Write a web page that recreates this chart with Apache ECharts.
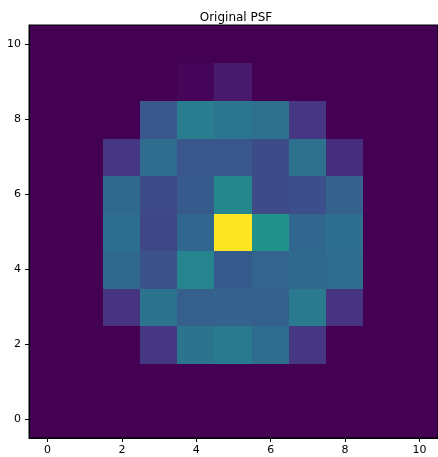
<!DOCTYPE html>
<html>
<head>
<meta charset="utf-8">
<script src="https://cdn.jsdelivr.net/npm/echarts@6/dist/echarts.min.js"></script>
<style>html,body{margin:0;padding:0;background:#fff;}#c{width:438px;height:457px;}</style>
</head>
<body>
<div id="c"></div>
<script>
var xCategories = ['0','1','2','3','4','5','6','7','8','9','10'];
var yCategories = ['0','1','2','3','4','5','6','7','8','9','10'];
var titleText = 'Original PSF';
// rows from y=0 (bottom) to y=10 (top), normalized intensity
var row0  = [0,0,0,0,0,0,0,0,0,0,0];
var row1  = [0,0,0,0,0,0,0,0,0,0,0];
var row2  = [0,0,0,0.16,0.38,0.41,0.35,0.16,0,0,0];
var row3  = [0,0,0.15,0.38,0.30,0.31,0.30,0.41,0.15,0,0];
var row4  = [0,0,0.34,0.25,0.45,0.28,0.32,0.34,0.35,0,0];
var row5  = [0,0,0.36,0.21,0.33,1.0,0.50,0.33,0.36,0,0];
var row6  = [0,0,0.34,0.22,0.28,0.46,0.22,0.24,0.31,0,0];
var row7  = [0,0,0.16,0.35,0.27,0.27,0.23,0.37,0.13,0,0];
var row8  = [0,0,0,0.27,0.42,0.39,0.37,0.16,0,0,0];
var row9  = [0,0,0,0,0.015,0.07,0,0,0,0,0];
var row10 = [0,0,0,0,0,0,0,0,0,0,0];
var rows = [row0,row1,row2,row3,row4,row5,row6,row7,row8,row9,row10];

var data = [];
rows.forEach(function(r, y){ r.forEach(function(v, x){ data.push([x, y, v]); }); });

var viridis = ['#440154','#471365','#482475','#463480','#414487','#3b528b','#355f8d','#2f6c8e','#2a788e','#25848e','#21918c','#1e9c89','#22a884','#2fb47c','#44bf70','#5ec962','#7ad151','#9bd93c','#bddf26','#dfe318','#fde725'];

var chart = echarts.init(document.getElementById('c'), null, {renderer:'canvas'});
var axisCommon = {
  type: 'category',
  axisLine: {show: true, onZero: false, lineStyle: {color: '#000', width: 1}},
  axisTick: {show: true, interval: 1, alignWithLabel: true, length: 4, lineStyle: {color: '#000'}},
  axisLabel: {interval: 1, color: '#000', fontFamily: 'DejaVu Sans', fontSize: 11, margin: 7},
  splitLine: {show: false},
  splitArea: {show: false}
};
chart.setOption({
  animation: false,
  backgroundColor: '#fff',
  title: {
    text: titleText, left: 231, top: 7, textAlign: 'center',
    textStyle: {fontFamily: 'DejaVu Sans', fontSize: 12, fontWeight: 'normal', color: '#000'}
  },
  grid: {left: 29, top: 25, width: 411, height: 413, show: true, borderColor: '#000', borderWidth: 1, backgroundColor: 'transparent', z: 5},
  xAxis: Object.assign({}, axisCommon, {data: xCategories, position: 'bottom', z: 10}),
  yAxis: Object.assign({}, axisCommon, {data: yCategories, position: 'left', z: 10, axisLabel: Object.assign({}, axisCommon.axisLabel, {margin: 8})}),
  visualMap: {show: false, min: 0, max: 1, calculable: false, inRange: {color: viridis}, dimension: 2},
  series: [{
    type: 'custom',
    data: data,
    encode: {x: 0, y: 1},
    clip: true,
    renderItem: function(params, api){
      var c = api.coord([api.value(0), api.value(1)]);
      var s = api.size([1, 1]);
      return {
        type: 'rect',
        shape: {x: Math.floor(c[0] - s[0]/2), y: Math.floor(c[1] - s[1]/2), width: Math.ceil(s[0]) + 1, height: Math.ceil(s[1]) + 1},
        style: {fill: api.visual('color'), stroke: null},
        silent: true
      };
    }
  }]
});
</script>
</body>
</html>
